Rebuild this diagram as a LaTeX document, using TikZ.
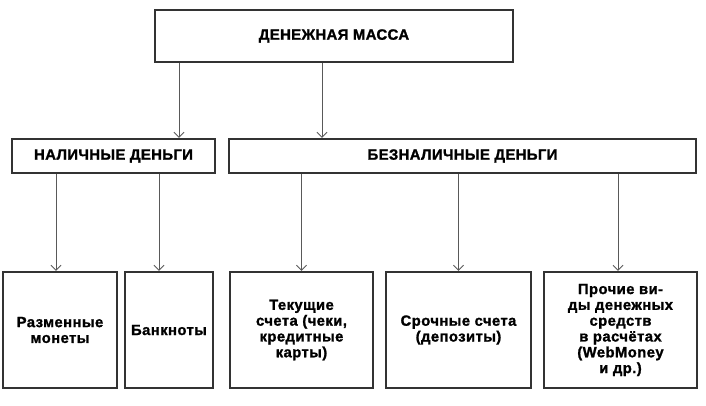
\documentclass[tikz,border=0pt]{standalone}
\usepackage{fontspec}
\setmainfont{Liberation Sans}
\newfontfamily\capsfont{Liberation Sans}[LetterSpace=2, BoldFeatures={FakeBold=1.3}]
\newfontfamily\boxfont{Liberation Sans}[LetterSpace=3, BoldFeatures={FakeBold=1.3}]
\usepackage{tikz}
\usetikzlibrary{positioning,arrows.meta,calc}
\tikzset{%
  arrow/.style = { -{Straight Barb[length=5pt,width=10pt]}, line width = 0.8pt, draw = black!65 },
  tbox/.style  = { draw = black!80, line width = 2.4pt, align = center, inner sep = 2pt,
                   minimum width = #1, font = \boxfont\bfseries\fontsize{14.8}{15.8}\selectfont },
  hbox/.style  = { tbox = #1, minimum height = 34pt, font = \capsfont\bfseries\fontsize{15}{16}\selectfont },
  leaf/.style  = { tbox = #1, minimum height = 116pt }
}

\begin{document}
\begin{tikzpicture}[x=1pt,y=-1pt]
  \useasboundingbox (0,0) rectangle (706,405);
  \node(mass)[hbox=358pt, minimum height = 52pt] at (334,36) {ДЕНЕЖНАЯ МАССА};
  \node(cash)[hbox=203pt] at (113.5,156) {НАЛИЧНЫЕ ДЕНЬГИ};
  \node(bank)[hbox=467pt] at (462.5,156) {БЕЗНАЛИЧНЫЕ ДЕНЬГИ};
  \node(coin)[leaf=114pt] at (60,330) {Разменные\\монеты};
  \node(note)[leaf=88pt] at (169,330) {Банкноты};
  \node(curr)[leaf=143pt] at (301.5,330) {Текущие\\счета (чеки,\\кредитные\\карты)};
  \node(term)[leaf=145pt] at (458.5,330) {Срочные счета\\(депозиты)};
  \node(misc)[leaf=153pt] at (620.5,330) {Прочие ви-\\ды денежных\\средств\\в расчётах\\(WebMoney\\и др.)};
  \draw[arrow] ([xshift=65.5pt]cash.north |- mass.south) -- ([xshift=65.5pt]cash.north);
  \draw[arrow] ([xshift=-140.5pt]bank.north |- mass.south) -- ([xshift=-140.5pt]bank.north);
  \draw[arrow] ([xshift=-4pt]coin.north |- cash.south) -- ([xshift=-4pt]coin.north);
  \draw[arrow] ([xshift=-10pt]note.north |- cash.south) -- ([xshift=-10pt]note.north);
  \draw[arrow] (curr.north |- bank.south) -- (curr.north);
  \draw[arrow] (term.north |- bank.south) -- (term.north);
  \draw[arrow] ([xshift=-2.5pt]misc.north |- bank.south) -- ([xshift=-2.5pt]misc.north);
\end{tikzpicture}
\end{document}
